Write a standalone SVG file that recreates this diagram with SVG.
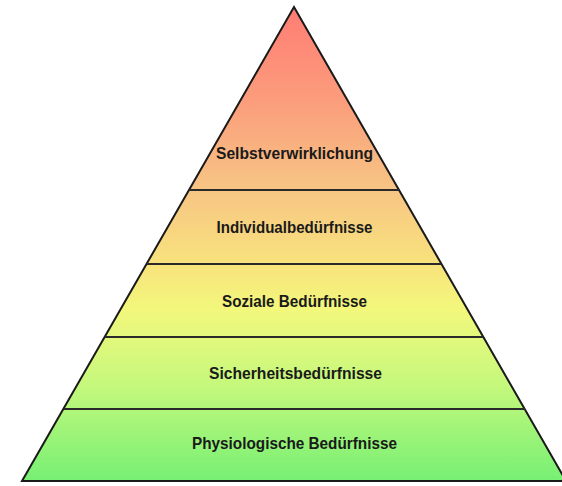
<svg xmlns="http://www.w3.org/2000/svg" width="562" height="486" viewBox="0 0 562 486">
  <defs>
    <linearGradient id="grad" gradientUnits="userSpaceOnUse" x1="0" y1="7" x2="0" y2="481">
      <stop offset="0" stop-color="#ff7d74"/>
      <stop offset="0.2" stop-color="#fb9d7c"/>
      <stop offset="0.38" stop-color="#f7c484"/>
      <stop offset="0.55" stop-color="#f8e47c"/>
      <stop offset="0.64" stop-color="#f2f87c"/>
      <stop offset="0.8" stop-color="#c4f87c"/>
      <stop offset="1" stop-color="#76f074"/>
    </linearGradient>
    <clipPath id="clip"><rect x="0" y="0" width="562" height="486"/></clipPath>
  </defs>
  <style>
    .shape { fill: url(#grad); stroke: #1a1a1a; stroke-width: 2; stroke-linejoin: miter; }
    .sep { stroke: #2a2a2a; stroke-width: 2; fill: none; }
    .lbl { font-family: "Liberation Sans", Arial, sans-serif; font-size: 16.5px; font-weight: bold; fill: #1a1a1a; text-anchor: middle; }
  </style>
  <rect width="562" height="486" fill="#ffffff"/>
  <g id="pyramid" clip-path="url(#clip)">
    <polygon class="shape" points="294,7 566,481 22,481"/>
  </g>
  <g id="connectors">
    <line class="sep" x1="189" y1="190" x2="399" y2="190"/>
    <line class="sep" x1="147" y1="264" x2="441" y2="264"/>
    <line class="sep" x1="105" y1="337" x2="483" y2="337"/>
    <line class="sep" x1="64" y1="409" x2="525" y2="409"/>
  </g>
  <g id="level5"><text class="lbl" x="294.5" y="159" textLength="157" lengthAdjust="spacingAndGlyphs">Selbstverwirklichung</text></g>
  <g id="level4"><text class="lbl" x="294.5" y="233" textLength="156" lengthAdjust="spacingAndGlyphs">Individualbedürfnisse</text></g>
  <g id="level3"><text class="lbl" x="294.5" y="307" textLength="145" lengthAdjust="spacingAndGlyphs">Soziale Bedürfnisse</text></g>
  <g id="level2"><text class="lbl" x="295.5" y="379" textLength="173" lengthAdjust="spacingAndGlyphs">Sicherheitsbedürfnisse</text></g>
  <g id="level1"><text class="lbl" x="294.5" y="449" textLength="205" lengthAdjust="spacingAndGlyphs">Physiologische Bedürfnisse</text></g>
</svg>
